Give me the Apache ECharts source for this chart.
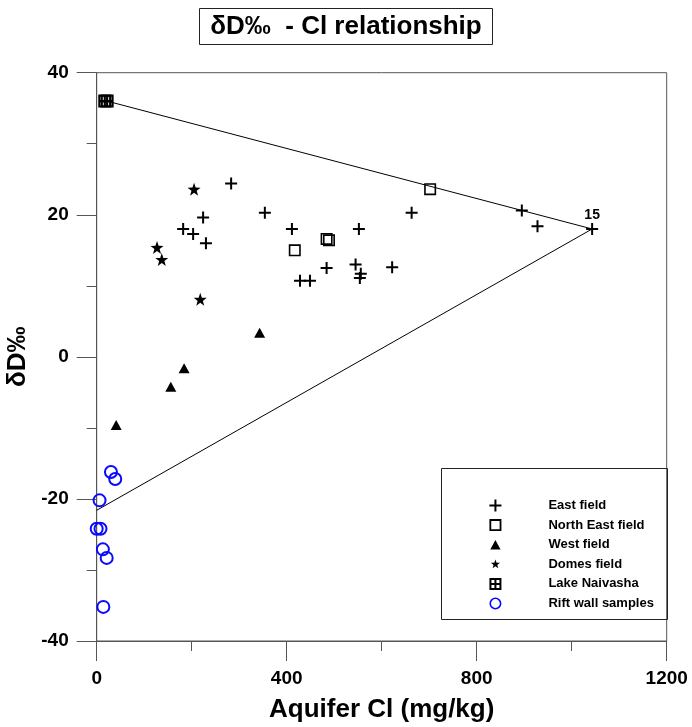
<!DOCTYPE html>
<html lang="en">
<head>
    <meta charset="UTF-8">
    <title>dD - Cl relationship</title>
    <script src="https://cdn.jsdelivr.net/npm/echarts@6/dist/echarts.min.js"></script>
    <style>
        html, body { margin: 0; padding: 0; background: #fff; }
        #chart { width: 692px; height: 727px; }
    </style>
</head>
<body>
<div id="chart"></div>
<script>
    // values: Aquifer Cl (mg/kg) vs dD (permil)
    var eastCl = [283, 224, 354, 182, 203, 230, 411, 552, 484, 545, 556, 554, 622, 428, 449, 663, 895, 928, 1043];
    var eastDD = [24.4, 19.6, 20.3, 18.0, 17.3, 16.0, 18.0, 18.0, 12.5, 13.0, 11.7, 11.1, 12.6, 10.7, 10.7, 20.3, 20.6, 18.4, 18.0];
    var eastLabels = { 18: '15' };

    var neCl = [417, 484, 489, 702];
    var neDD = [15.0, 16.6, 16.4, 23.6];

    var westCl = [41, 156, 184, 343];
    var westDD = [-9.6, -4.2, -1.6, 3.4];

    var domesCl = [127, 137, 205, 218];
    var domesDD = [15.4, 13.7, 23.6, 8.1];

    var lakeCl = [17, 22];
    var lakeDD = [36.0, 36.0];

    var riftCl = [30, 39, 6, 0, 8, 13, 21, 14];
    var riftDD = [-16.2, -17.2, -20.2, -24.2, -24.2, -27.1, -28.3, -35.2];

    // mixing triangle: lake -> well 15 -> low-Cl end member
    var mixCl = [22, 1043, 0];
    var mixDD = [36.0, 18.0, -21.6];

    var xTicks = [0, 400, 800, 1200];
    var yTicks = [-40, -20, 0, 20, 40];

    var FONT = '"Liberation Sans", Arial, sans-serif';

    // marker shapes
    var PLUS = 'path://M5,0H7V5H12V7H7V12H5V7H0V5H5Z';
    var SQUARE = 'path://M0,0H12V12H0Z M1.6,1.6V10.4H10.4V1.6Z';
    var TRIANGLE = 'path://M6,0L12,11H0Z';
    var STAR = 'path://M50,0L61.76,33.82L97.55,34.55L69.02,56.18L79.39,90.45L50,70L20.61,90.45L30.98,56.18L2.45,34.55L38.24,33.82Z';
    var LAKE = 'path://M0,0H12V12H0Z M2,2V5H5V2Z M7,2V5H10V2Z M2,7V10H5V7Z M7,7V10H10V7Z';
    var RING = 'path://M7,0A7,7 0 1,1 7,14A7,7 0 1,1 7,0Z M7,2A5,5 0 1,0 7,12A5,5 0 1,0 7,2Z';

    function pairs(xs, ys, labels) {
        return xs.map(function (x, i) {
            var item = { value: [x, ys[i]] };
            if (labels && labels[i]) {
                item.label = {
                    show: true, formatter: labels[i], position: 'top', distance: 1,
                    color: '#000', fontFamily: FONT, fontWeight: 'bold', fontSize: 14
                };
            }
            return item;
        });
    }

    function scatter(name, xs, ys, symbol, size, color, labels) {
        return {
            name: name,
            type: 'scatter',
            symbol: symbol,
            symbolSize: size,
            itemStyle: { color: color, opacity: 1 },
            data: pairs(xs, ys, labels),
            z: 3
        };
    }

    var chart = echarts.init(document.getElementById('chart'), null, { renderer: 'canvas' });

    var axisCommon = {
        axisLine: { show: true, onZero: false, lineStyle: { color: '#555', width: 1 } },
        axisTick: { show: true, inside: false, length: 20, lineStyle: { color: '#555', width: 1 } },
        minorTick: { show: true, splitNumber: 2, length: 10, lineStyle: { color: '#555', width: 1 } },
        splitLine: { show: false },
        minorSplitLine: { show: false },
        axisLabel: {
            color: '#000', fontFamily: FONT, fontWeight: 'bold', fontSize: 19, margin: 28,
            formatter: function (v) { return String(v); }
        },
        nameTextStyle: { color: '#000', fontFamily: FONT, fontWeight: 'bold', fontSize: 26 }
    };

    chart.setOption({
        animation: false,
        backgroundColor: '#fff',
        title: {
            text: 'δD‰  - Cl relationship',
            left: 'center',
            top: 8,
            padding: [6, 11, 5, 11],
            borderColor: '#222',
            borderWidth: 1,
            textStyle: { color: '#000', fontFamily: FONT, fontWeight: 'bold', fontSize: 26 }
        },
        grid: {
            left: 96.7, right: 25.3, top: 72.7, bottom: 86,
            containLabel: false,
            outerBoundsMode: 'none',
            show: true, borderColor: '#555', borderWidth: 1, backgroundColor: 'transparent'
        },
        xAxis: Object.assign({}, axisCommon, {
            type: 'value',
            min: xTicks[0], max: xTicks[xTicks.length - 1], interval: xTicks[1] - xTicks[0],
            name: 'Aquifer Cl (mg/kg)',
            nameLocation: 'middle',
            nameGap: 56
        }),
        yAxis: Object.assign({}, axisCommon, {
            type: 'value',
            min: yTicks[0], max: yTicks[yTicks.length - 1], interval: yTicks[1] - yTicks[0],
            name: 'δD‰',
            nameLocation: 'middle',
            nameGap: 62
        }),
        graphic: [{
            type: 'rect',
            left: 441, top: 468,
            shape: { width: 226, height: 151 },
            style: { fill: 'transparent', stroke: '#222', lineWidth: 1 },
            z: 10
        }],
        legend: {
            orient: 'vertical',
            left: 489,
            top: 499,
            padding: 0,
            itemWidth: 96,
            itemHeight: 12,
            itemGap: 6.6,
            symbolKeepAspect: true,
            selectedMode: false,
            textStyle: { color: '#000', fontFamily: FONT, fontWeight: 'bold', fontSize: 13, lineHeight: 12 },
            data: [
                { name: 'East field', icon: PLUS },
                { name: 'North East field', icon: 'path://M0,0H12V12H0Z M1.8,1.8V10.2H10.2V1.8Z' },
                { name: 'West field', icon: 'path://M-1.5,-1.5 M6,0L12,11H0Z M13.5,12.5' },
                { name: 'Domes field', icon: 'path://M-12,-12 M50,0L61.76,33.82L97.55,34.55L69.02,56.18L79.39,90.45L50,70L20.61,90.45L30.98,56.18L2.45,34.55L38.24,33.82Z M112,112' },
                { name: 'Lake Naivasha', icon: LAKE },
                { name: 'Rift wall samples', icon: 'path://M7,-0.5A7.5,7.5 0 1,1 7,14.5A7.5,7.5 0 1,1 7,-0.5Z M7,1.5A5.5,5.5 0 1,0 7,12.5A5.5,5.5 0 1,0 7,1.5Z' }
            ]
        },
        series: [
            {
                name: 'mixing',
                type: 'line',
                data: pairs(mixCl, mixDD),
                symbol: 'none',
                silent: true,
                lineStyle: { color: '#000', width: 1 },
                z: 1
            },
            scatter('East field', eastCl, eastDD, PLUS, 12, '#000', eastLabels),
            scatter('North East field', neCl, neDD, SQUARE, 12, '#000'),
            scatter('West field', westCl, westDD, TRIANGLE, [11, 10], '#000'),
            scatter('Domes field', domesCl, domesDD, STAR, 13, '#000'),
            scatter('Lake Naivasha', lakeCl, lakeDD, LAKE, 13, '#000'),
            scatter('Rift wall samples', riftCl, riftDD, RING, 14, '#0a0aff')
        ]
    });
</script>
</body>
</html>
